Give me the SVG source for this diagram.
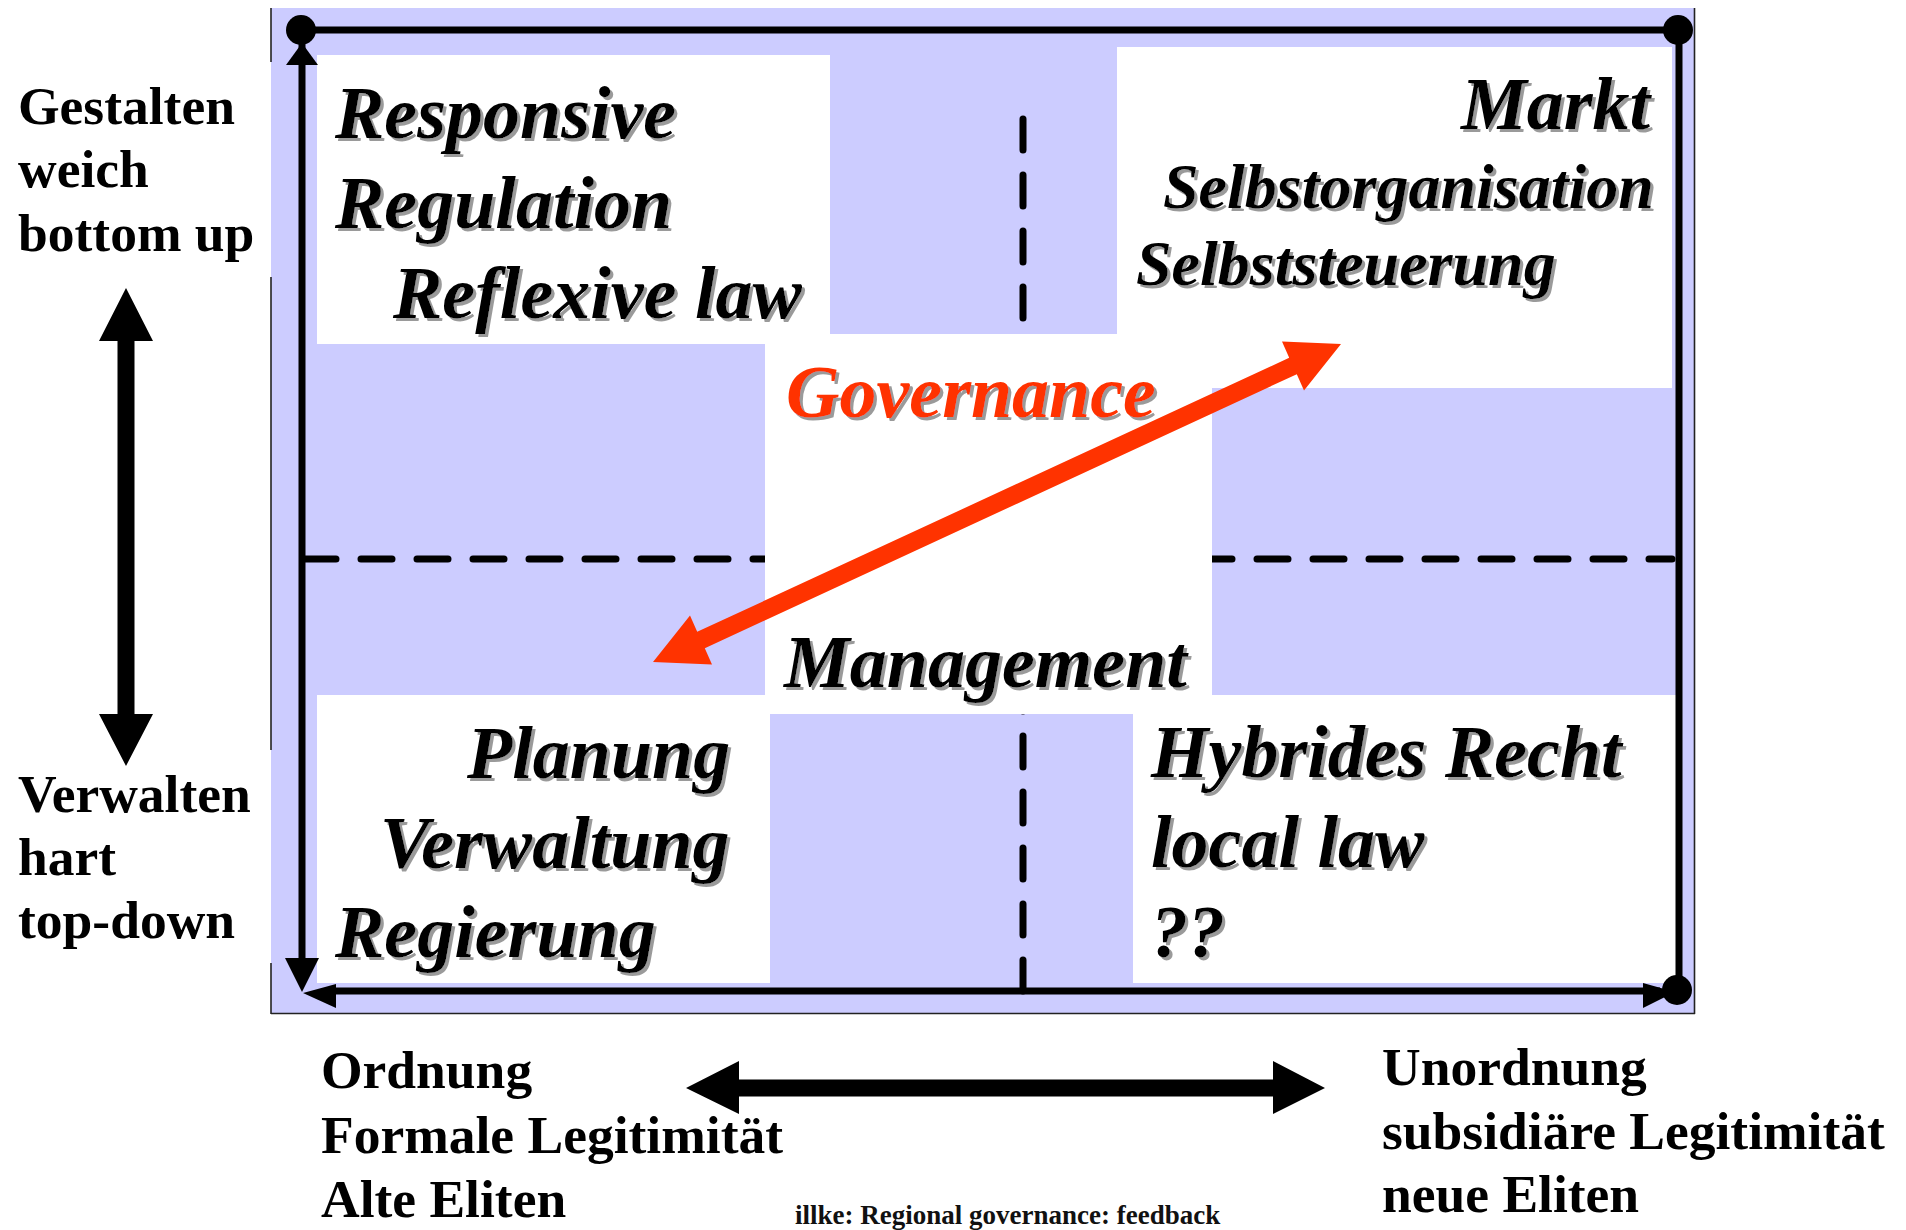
<svg xmlns="http://www.w3.org/2000/svg" width="1906" height="1230" viewBox="0 0 1906 1230">
  <defs>
    <filter id="shadow" x="-5%" y="-20%" width="115%" height="150%">
      <feDropShadow dx="3" dy="3" stdDeviation="0.6" flood-color="#9a9a9a" flood-opacity="1"/>
    </filter>
    <style>
      .bg { fill: #ccccff; }
      .white { fill: #ffffff; }
      .border { stroke: #222222; stroke-width: 1.6; fill: none; }
      .dash { stroke: #000000; stroke-width: 7; stroke-linecap: round; stroke-dasharray: 31 25; fill: none; }
      .axis { stroke: #000000; stroke-width: 7; fill: none; }
      .dot { fill: #000000; }
      .head { fill: #000000; }
      .quad { font-family: "Liberation Serif", "Times New Roman", serif; font-weight: bold; font-style: italic; font-size: 74px; fill: #000000; filter: url(#shadow); }
      .quad.small { font-size: 64px; }
      .gov { fill: #ff3300; }
      .side { font-family: "Liberation Serif", "Times New Roman", serif; font-weight: bold; font-size: 53.5px; fill: #000000; }
      .foot { font-family: "Liberation Serif", "Times New Roman", serif; font-weight: bold; font-size: 27px; fill: #111111; }
    </style>
  </defs>

  <rect x="0" y="0" width="1906" height="1230" fill="#ffffff"/>

  <!-- frame background -->
  <g id="frame">
    <rect class="bg" x="271" y="8" width="1424" height="1006"/>
    <line class="border" x1="1694.5" y1="8" x2="1694.5" y2="1014"/>
    <line class="border" x1="271" y1="1013.5" x2="1695" y2="1013.5"/>
    <line class="border" x1="271" y1="8" x2="271" y2="62"/>
    <line class="border" x1="271" y1="277" x2="271" y2="750"/>
    <line class="border" x1="271" y1="963" x2="271" y2="1014"/>
  </g>

  <!-- dashed dividers (under the white fields) -->
  <g id="dividers">
    <line class="dash" x1="305" y1="559" x2="790" y2="559"/>
    <line class="dash" x1="1201" y1="559" x2="1672" y2="559"/>
    <line class="dash" x1="1023" y1="119" x2="1023" y2="318"/>
    <line class="dash" x1="1023" y1="680" x2="1023" y2="991"/>
  </g>

  <!-- white fields -->
  <g id="fields">
    <rect class="white" x="317" y="55" width="513" height="289"/>
    <rect class="white" x="1117" y="47" width="555" height="341"/>
    <rect class="white" x="765" y="334" width="447" height="380"/>
    <rect class="white" x="317" y="695" width="453" height="288"/>
    <rect class="white" x="1133" y="695" width="545" height="288"/>
  </g>

  <!-- connectors: axes, arrows -->
  <g id="connectors">
    <line class="axis" x1="301" y1="30" x2="1678" y2="30"/>
    <line class="axis" x1="302" y1="30" x2="302" y2="970"/>
    <line class="axis" x1="1679" y1="30" x2="1679" y2="990"/>
    <line class="axis" x1="325" y1="991" x2="1660" y2="991"/>
    <polygon class="head" points="302,43 318,65 286,65"/>
    <polygon class="head" points="302,992 285,958 319,958"/>
    <polygon class="head" points="303,993 336,984 336,1008"/>
    <polygon class="head" points="1643,983 1643,1008 1675,992"/>
    <circle class="dot" cx="301" cy="30" r="15"/>
    <circle class="dot" cx="1678" cy="30" r="15"/>
    <circle class="dot" cx="1677" cy="990" r="15"/>

    <polygon id="arrow-vertical" class="head" points="126,288 153,341 134.5,341 134.5,714 153,714 126,766 99,714 117.5,714 117.5,341 99,341"/>
    <polygon id="arrow-horizontal" class="head" points="686,1088 739,1061 739,1079.5 1273,1079.5 1273,1061 1325,1088 1273,1114 1273,1096.5 739,1096.5 739,1114"/>
    <polygon id="arrow-governance" fill="#ff3300" points="653,662 690,615.5 697.2,631.8 1289.2,357.8 1282,341.5 1341,344 1304,390.5 1296.8,374.2 704.8,648.2 712,664.5"/>
  </g>

  <g id="quadrant-top-left">
    <text class="quad" x="335" y="138">Responsive</text>
    <text class="quad" x="335" y="228">Regulation</text>
    <text class="quad" x="393" y="318">Reflexive law</text>
  </g>

  <g id="quadrant-top-right">
    <text class="quad" x="1461" y="129">Markt</text>
    <text class="quad small" x="1163" y="208">Selbstorganisation</text>
    <text class="quad small" x="1136" y="285">Selbststeuerung</text>
  </g>

  <g id="center-governance">
    <text class="quad gov" x="786" y="417">Governance</text>
  </g>

  <g id="center-management">
    <text class="quad" x="784" y="687">Management</text>
  </g>

  <g id="quadrant-bottom-left">
    <text class="quad" x="467" y="778">Planung</text>
    <text class="quad" x="380" y="868">Verwaltung</text>
    <text class="quad" x="335" y="957">Regierung</text>
  </g>

  <g id="quadrant-bottom-right">
    <text class="quad" x="1151" y="777">Hybrides Recht</text>
    <text class="quad" x="1151" y="867">local law</text>
    <text class="quad" x="1151" y="957">??</text>
  </g>

  <g id="label-top">
    <text class="side" x="18" y="124">Gestalten</text>
    <text class="side" x="18" y="187">weich</text>
    <text class="side" x="18" y="251">bottom up</text>
  </g>

  <g id="label-bottom">
    <text class="side" x="18" y="812">Verwalten</text>
    <text class="side" x="18" y="875">hart</text>
    <text class="side" x="18" y="938">top-down</text>
  </g>

  <g id="label-left">
    <text class="side" x="321" y="1088">Ordnung</text>
    <text class="side" x="321" y="1153">Formale Legitimität</text>
    <text class="side" x="321" y="1217">Alte Eliten</text>
  </g>

  <g id="label-right">
    <text class="side" x="1382" y="1085">Unordnung</text>
    <text class="side" x="1382" y="1149">subsidiäre Legitimität</text>
    <text class="side" x="1382" y="1212">neue Eliten</text>
  </g>

  <g id="footer">
    <text class="foot" x="795" y="1224">illke: Regional governance: feedback</text>
  </g>
</svg>
